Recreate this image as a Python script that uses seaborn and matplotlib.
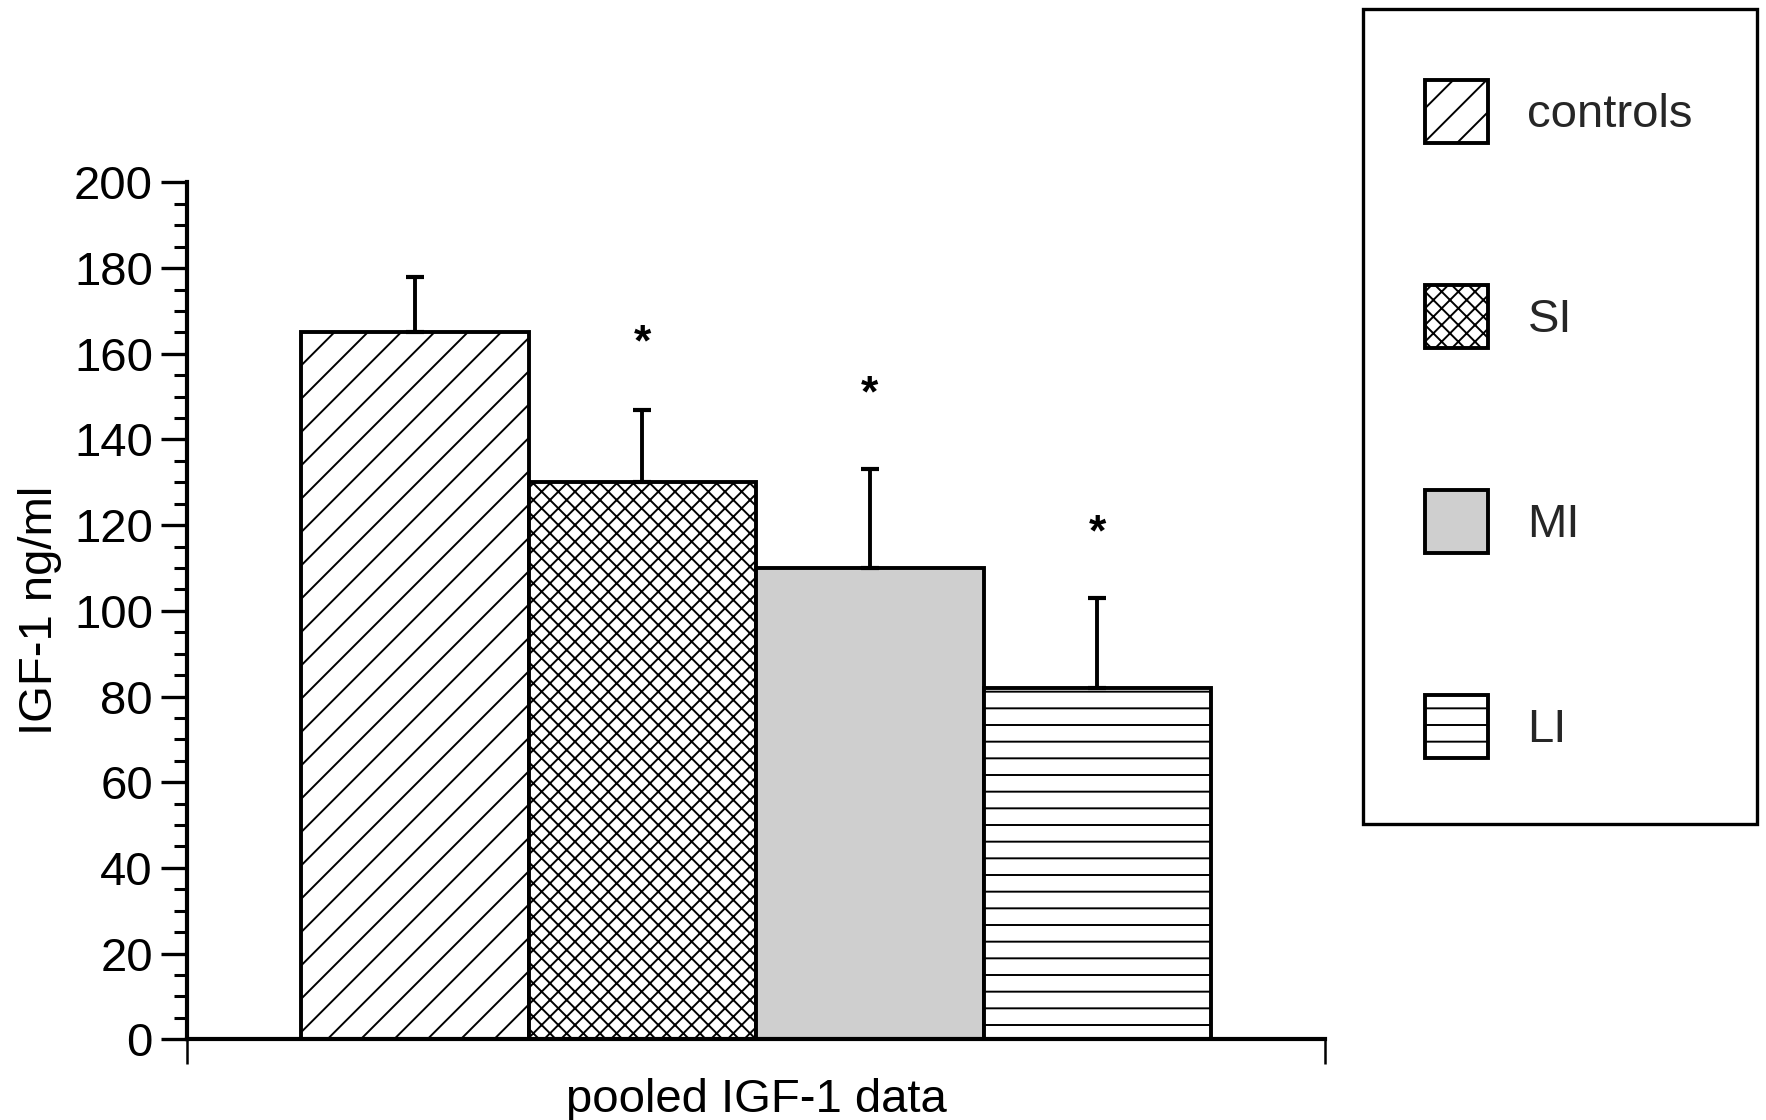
import matplotlib
matplotlib.use("Agg")
import matplotlib.pyplot as plt
import seaborn as sns
import pandas as pd
from matplotlib.patches import Rectangle
from matplotlib.ticker import MultipleLocator

# ---- data ----
groups = ["controls", "SI", "MI", "LI"]
means = [165, 130, 110, 82]
sem = [13, 17, 23, 21]
star_y = [None, 164.4, 152.5, 120]
yticks = list(range(0, 201, 20))

# ---- styles ----
hatches = ["//", "xxxx", "", "--"]
fills = ["white", "white", "#cfcfcf", "white"]

sns.set_theme(style="ticks")
plt.rcParams["font.family"] = ["Liberation Sans", "DejaVu Sans"]
plt.rcParams["hatch.linewidth"] = 0.7
plt.rcParams["hatch.color"] = "black"

W, H = 1766, 1120
fig = plt.figure(figsize=(W / 200, H / 200), dpi=200)
ax = fig.add_axes([0.1061, 0.0721, 0.6442, 0.765])

df = pd.DataFrame({"group": groups, "value": means})
sns.barplot(data=df, x="group", y="value", hue="group", palette=fills,
            width=1.0, edgecolor="black", linewidth=1.4, legend=False,
            errorbar=None, saturation=1, ax=ax)

bars = list(ax.patches)
for p, h in zip(bars, hatches):
    p.set_hatch(h)
    p.set_edgecolor("black")

ax.errorbar(x=list(range(len(groups))), y=means, yerr=[[0] * len(sem), sem],
            fmt="none", ecolor="black", elinewidth=1.4, capsize=3.4,
            capthick=1.5, zorder=5)

for i, s in enumerate(star_y):
    if s is not None:
        ax.annotate("*", xy=(i, s), xytext=(0, -7.2), textcoords="offset points",
                    ha="center", va="baseline", fontsize=16,
                    fontweight="bold", color="black")

ax.set_ylim(0, 200)
ax.set_yticks(yticks)
ax.yaxis.set_minor_locator(MultipleLocator(5))
ax.tick_params(axis="y", which="major", direction="out", length=9.2,
               width=1.2, labelsize=17, pad=3.2, colors="black")
ax.tick_params(axis="y", which="minor", direction="out", length=4.6,
               width=1.1, colors="black")

xl = (-1.0, 4.0)
ax.set_xlim(*xl)
ax.set_xticks(list(xl))
ax.set_xticklabels(["", ""])
ax.tick_params(axis="x", which="major", direction="out", length=9,
               width=0.9, colors="black")

sns.despine(ax=ax)
for sp in ["left", "bottom"]:
    ax.spines[sp].set_linewidth(1.5)
    ax.spines[sp].set_color("black")

ax.set_xlabel("pooled IGF-1 data", fontsize=17, labelpad=1.5, color="black")
ax.set_ylabel("IGF-1 ng/ml", fontsize=17, labelpad=4.2, color="black")

# legend (entries) + separate frame box as in the reference
leg = fig.legend(handles=bars, labels=groups, loc="upper left",
                 bbox_to_anchor=(1425 / W, 1 - 80 / H),
                 bbox_transform=fig.transFigure, frameon=False,
                 fontsize=17, handlelength=1.34, handleheight=1.685,
                 handletextpad=0.83, labelspacing=3.0,
                 borderpad=0, borderaxespad=0)
box = Rectangle((1363 / W, 1 - 824 / H), (1757 - 1363) / W, 815 / H,
                transform=fig.transFigure, fill=False, edgecolor="black",
                linewidth=1.2)
fig.patches.append(box)

fig.savefig("out.png", dpi=200, facecolor="white")
